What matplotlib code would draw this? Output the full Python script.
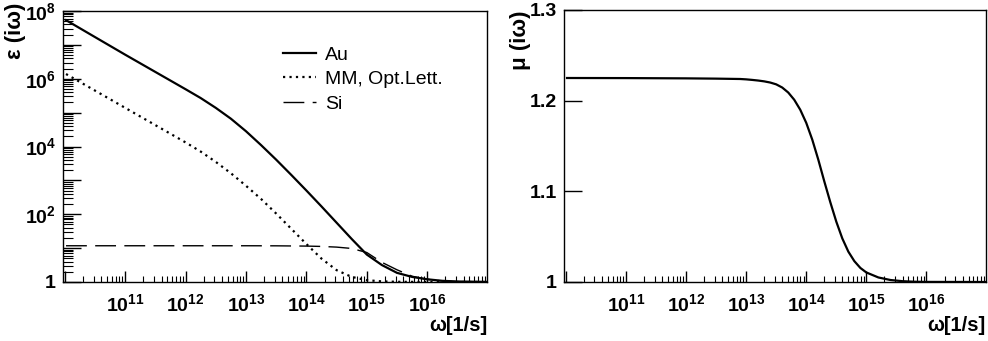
import matplotlib
matplotlib.use("Agg")
import matplotlib.pyplot as plt
from matplotlib.ticker import FixedLocator, FixedFormatter, NullFormatter
import numpy as np

plt.rcParams['font.family'] = ['Liberation Sans', 'DejaVu Sans']
plt.rcParams['mathtext.fontset'] = 'custom'
plt.rcParams['mathtext.rm'] = 'Liberation Sans:bold'
plt.rcParams['mathtext.bf'] = 'Liberation Sans:bold'
plt.rcParams['mathtext.default'] = 'bf'

# log10(omega) and log10(epsilon)
log_w_au = [10.02, 10.5, 11.0, 11.5, 12.0, 12.25, 12.5, 12.75, 13.0, 13.25, 13.5, 13.75,
            14.0, 14.25, 14.5, 14.75, 15.0, 15.25, 15.5, 15.75, 16.0, 16.25, 16.5, 17.0]
log_eps_au = [7.73, 7.23, 6.71, 6.20, 5.69, 5.43, 5.14, 4.82, 4.45, 4.04, 3.61, 3.16,
              2.70, 2.23, 1.75, 1.27, 0.81, 0.50, 0.27, 0.15, 0.08, 0.035, 0.015, 0.003]

log_w_mm = [10.02, 10.5, 11.0, 11.5, 12.0, 12.25, 12.5, 12.75, 13.0, 13.25, 13.5, 13.75,
            14.0, 14.25, 14.5, 14.75, 15.0, 15.25, 15.5, 16.0, 17.0]
log_eps_mm = [6.14, 5.65, 5.14, 4.63, 4.12, 3.85, 3.545, 3.21, 2.84, 2.45, 2.02, 1.57,
              1.12, 0.69, 0.35, 0.15, 0.054, 0.018, 0.006, 0.001, 0.0]

log_w_si = [10.02, 11.0, 12.0, 13.0, 13.5, 14.0, 14.25, 14.5, 14.75, 15.0, 15.25, 15.5,
            15.75, 16.0, 16.25, 16.5, 17.0]
log_eps_si = [1.07, 1.07, 1.07, 1.07, 1.068, 1.06, 1.05, 1.03, 0.99, 0.87, 0.58, 0.36,
              0.17, 0.08, 0.03, 0.01, 0.002]

# right panel: mu(i omega)
log_w_mu = [10.02, 11.0, 12.0, 12.5, 12.9, 13.0, 13.1, 13.2, 13.3, 13.4, 13.5, 13.6,
            13.7, 13.8, 13.9, 14.0, 14.1, 14.2, 14.3, 14.4, 14.5, 14.6, 14.7, 14.8,
            14.9, 15.0, 15.2, 15.4, 15.6, 15.8, 16.0, 17.0]
mu_vals = [1.2250, 1.2249, 1.2246, 1.2243, 1.2239, 1.2235, 1.2229, 1.2222, 1.2213, 1.2200,
           1.2180, 1.2145, 1.2090, 1.2010, 1.1900, 1.1755, 1.1570, 1.1350, 1.1110, 1.0880,
           1.0665, 1.0480, 1.0335, 1.0230, 1.0155, 1.0105, 1.0050, 1.0022, 1.0009, 1.0003,
           1.0001, 1.0]

x_label_exps = [11, 12, 13, 14, 15, 16]
y_label_exps = [0, 2, 4, 6, 8]
mu_ticks = [1.0, 1.1, 1.2, 1.3]

fig = plt.figure(figsize=(9.88, 3.41), dpi=100)
ax1 = fig.add_axes([63 / 988, 59 / 341, 424 / 988, 271 / 341])
ax2 = fig.add_axes([564 / 988, 59 / 341, 422 / 988, 272 / 341])

w = lambda v: 10 ** np.array(v)
ax1.plot(w(log_w_au), w(log_eps_au), color='black', lw=1.6, label='Au')
ax1.plot(w(log_w_mm), w(log_eps_mm), color='black', lw=1.6, ls=(0, (1.0, 1.9)),
         label='MM, Opt.Lett.')
ax1.plot(w(log_w_si), w(log_eps_si), color='black', lw=1.0, ls=(0, (15, 6)), label='Si')

ax2.plot(w(log_w_mu), mu_vals, color='black', lw=1.6)


def style_x(ax):
    ax.set_xscale('log')
    ax.set_xlim(10 ** 9.97, 10 ** 16.99)
    ax.xaxis.set_major_locator(FixedLocator([10.0 ** e for e in range(10, 18)]))
    ax.xaxis.set_major_formatter(FixedFormatter(
        [''] + [r'$10^{%d}$' % e for e in x_label_exps] + ['']))
    minors = [m * 10.0 ** e for e in range(9, 17) for m in range(2, 10)]
    ax.xaxis.set_minor_locator(FixedLocator(minors))
    ax.xaxis.set_minor_formatter(NullFormatter())
    ax.tick_params(axis='x', which='major', direction='in', length=8, width=1.0,
                   labelsize=14, pad=8, top=False)
    ax.tick_params(axis='x', which='minor', direction='in', length=4, width=0.8, top=False)
    ax.text(1.0, -0.125, 'ω[1/s]', transform=ax.transAxes, ha='right', va='top',
            fontsize=14.5, fontweight='bold')
    for s in ax.spines.values():
        s.set_linewidth(1.0)


style_x(ax1)
style_x(ax2)

# left y axis: log
ax1.set_yscale('log')
ax1.set_ylim(1, 1e8)
ax1.yaxis.set_major_locator(FixedLocator([10.0 ** e for e in range(0, 9)]))
ax1.yaxis.set_major_formatter(FixedFormatter(
    ['1' if e == 0 else (r'$10^{%d}$' % e if e in y_label_exps else '') for e in range(0, 9)]))
ax1.yaxis.set_minor_locator(FixedLocator([m * 10.0 ** e for e in range(0, 8) for m in range(2, 10)]))
ax1.yaxis.set_minor_formatter(NullFormatter())
ax1.tick_params(axis='y', which='major', direction='in', length=13, width=1.0,
                labelsize=14, pad=5, right=False)
ax1.tick_params(axis='y', which='minor', direction='in', length=7, width=0.8, right=False)
for lbl in ax1.get_yticklabels():
    lbl.set_fontweight('bold')
ax1.text(-0.112, 1.03, 'ε (iω)', transform=ax1.transAxes, rotation=90, ha='center',
         va='top', fontsize=16, fontweight='bold')

leg = ax1.legend(loc='upper left', bbox_to_anchor=(0.519, 0.87), frameon=False,
                 fontsize=14, handlelength=1.7, handletextpad=0.45, labelspacing=0.35,
                 borderpad=0, borderaxespad=0)

# right y axis: linear
ax2.set_ylim(1.0, 1.3)
ax2.yaxis.set_major_locator(FixedLocator(mu_ticks))
ax2.yaxis.set_major_formatter(FixedFormatter(['1', '1.1', '1.2', '1.3']))
ax2.tick_params(axis='y', which='major', direction='in', length=13, width=1.0,
                labelsize=14, pad=5, right=False)
for lbl in ax2.get_yticklabels():
    lbl.set_fontweight('bold')
ax2.text(-0.104, 1.0, 'μ (iω)', transform=ax2.transAxes, rotation=90, ha='center',
         va='top', fontsize=16, fontweight='bold')

fig.savefig('out.png', dpi=100)
